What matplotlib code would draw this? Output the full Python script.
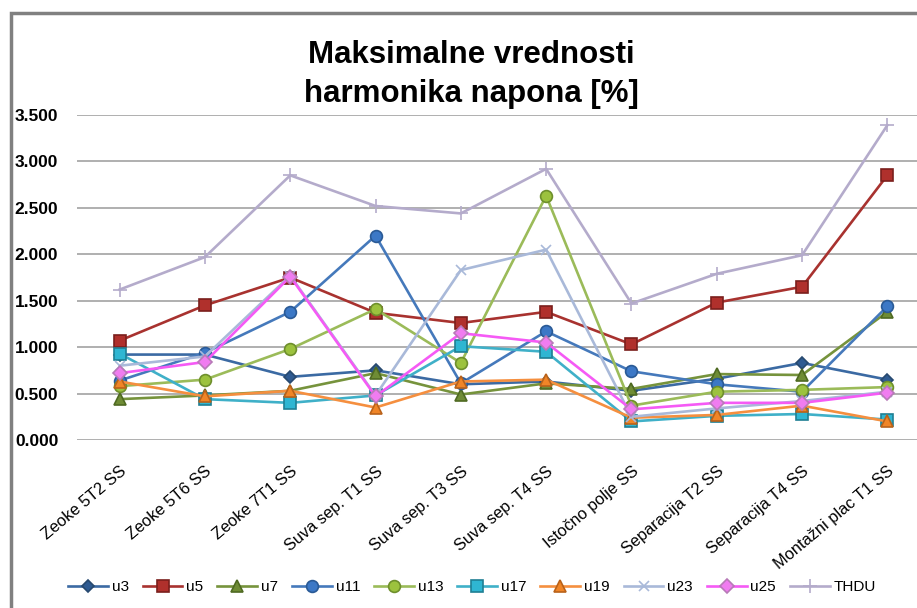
import numpy as np
import matplotlib
matplotlib.use("Agg")
import matplotlib.pyplot as plt
from matplotlib.patches import Rectangle

plt.rcParams['font.family'] = ['Liberation Sans', 'DejaVu Sans']

# measuring points
categories = ["Zeoke 5T2 SS", "Zeoke 5T6 SS", "Zeoke 7T1 SS", "Suva sep. T1 SS",
              "Suva sep. T3 SS", "Suva sep. T4 SS", "Istočno polje SS",
              "Separacija T2 SS", "Separacija T4 SS", "Montažni plac T1 SS"]

# max harmonic voltage values [%]
u3 = [0.92, 0.92, 0.68, 0.75, 0.60, 0.63, 0.53, 0.66, 0.83, 0.65]
u5 = [1.07, 1.45, 1.75, 1.37, 1.26, 1.38, 1.03, 1.48, 1.65, 2.85]
u7 = [0.44, 0.48, 0.53, 0.72, 0.49, 0.61, 0.55, 0.71, 0.70, 1.38]
u11 = [0.64, 0.94, 1.38, 2.20, 0.61, 1.17, 0.74, 0.60, 0.52, 1.44]
u13 = [0.58, 0.65, 0.98, 1.41, 0.83, 2.63, 0.37, 0.52, 0.54, 0.57]
u17 = [0.93, 0.44, 0.40, 0.48, 1.01, 0.95, 0.20, 0.26, 0.28, 0.22]
u19 = [0.63, 0.47, 0.53, 0.35, 0.63, 0.65, 0.24, 0.27, 0.37, 0.20]
u23 = [0.80, 0.90, 1.77, 0.48, 1.83, 2.05, 0.25, 0.34, 0.42, 0.52]
u25 = [0.72, 0.84, 1.76, 0.47, 1.15, 1.05, 0.33, 0.40, 0.40, 0.51]
thdu = [1.62, 1.97, 2.85, 2.52, 2.44, 2.92, 1.47, 1.79, 1.99, 3.39]

series_names = ["u3", "u5", "u7", "u11", "u13", "u17", "u19", "u23", "u25", "THDU"]
series_values = [u3, u5, u7, u11, u13, u17, u19, u23, u25, thdu]

# (line colour, marker, marker face, marker edge, marker size)
styles = [
    ("#3b6aa3", "D", "#2f5b92", "#27496f", 6.5),
    ("#a8322f", "s", "#b0302c", "#7a1f1c", 8),
    ("#76933c", "^", "#6f8c35", "#4f6a22", 8),
    ("#4579bb", "o", "#3c78c6", "#2a5a96", 8.5),
    ("#9bbb59", "o", "#9cc23e", "#6e8f2c", 8.5),
    ("#3fb0c8", "s", "#2fb6d2", "#1f7f94", 8),
    ("#f58f3f", "^", "#f08527", "#b9621a", 8),
    ("#a9b9d9", "x", "#a9b9d9", "#a9b9d9", 7),
    ("#f55af5", "D", "#f07cf0", "#b77ab7", 7),
    ("#b4abcb", "+", "#b4abcb", "#b4abcb", 10),
]

fig = plt.figure(figsize=(9.17, 6.08), dpi=100)
ax = fig.add_axes([77 / 917, 168 / 608, 853 / 917, 325 / 608])

x = np.arange(len(categories))
for name, vals, (lc, mk, mf, me, ms) in zip(series_names, series_values, styles):
    ax.plot(x, vals, color=lc, lw=1.9, marker=mk, markersize=ms,
            markerfacecolor=mf, markeredgecolor=me, markeredgewidth=1.2,
            label=name, zorder=3)

ax.set_xlim(-0.5, len(categories) - 0.5)
ax.set_ylim(0, 3.5)
ax.set_yticks(np.arange(0, 3.51, 0.5))
ax.set_yticklabels([f"{v:.3f}" for v in np.arange(0, 3.51, 0.5)],
                   fontsize=12.5, fontweight='bold')
ax.grid(axis='y', color='#9a9a9a', lw=1.1)
ax.set_axisbelow(True)
for s in ax.spines.values():
    s.set_visible(False)
ax.tick_params(axis='y', length=0, pad=13.5)
ax.tick_params(axis='x', length=0, pad=17)

ax.set_xticks(x)
ax.set_xticklabels(categories, rotation=40, ha='right', va='top',
                   rotation_mode='anchor', fontsize=11.8)

fig.text(471 / 917, 1 - 40 / 608, "Maksimalne vrednosti\nharmonika napona [%]",
         ha='center', va='top', fontsize=22.5, fontweight='bold', linespacing=1.38)

fig.legend(loc='center', bbox_to_anchor=(472 / 917, 1 - 587 / 608), ncol=10,
           frameon=False, fontsize=11, handlelength=2.6, handletextpad=0.25,
           columnspacing=0.92)

# chart frame
fig.patches.append(Rectangle((11 / 917, -0.05), 1.1, 1 - 13 / 608 + 0.05,
                             transform=fig.transFigure, fill=False,
                             edgecolor='#808080', lw=2.5))

fig.savefig("out.png", dpi=100)
